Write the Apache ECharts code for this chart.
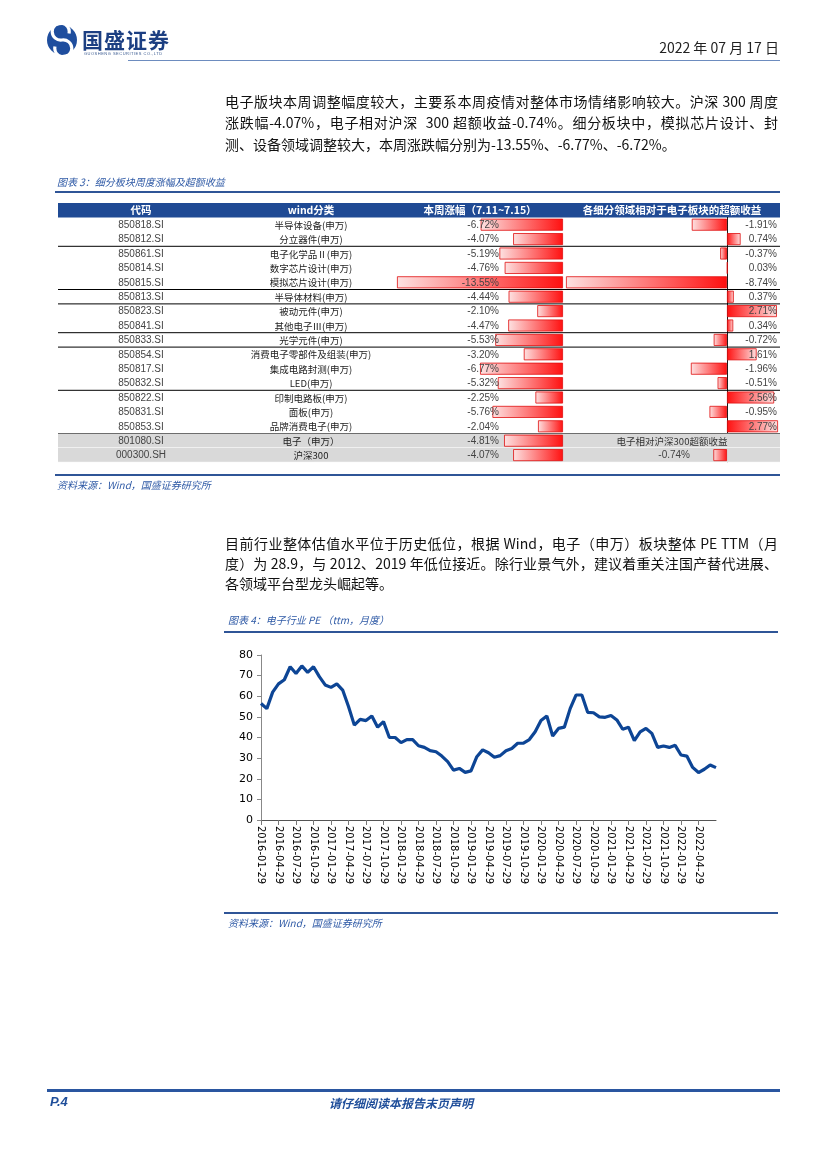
<!DOCTYPE html>
<html><head><meta charset="utf-8">
<script src="https://cdn.jsdelivr.net/npm/echarts@6/dist/echarts.min.js"></script>
<style>
html,body{margin:0;padding:0;background:#fff;}
#page{position:relative;width:827px;height:1169px;overflow:hidden;font-family:"Noto Sans CJK SC","Noto Sans",sans-serif;}
#chart{position:absolute;left:0;top:0;width:827px;height:1169px;z-index:1;}
.t{position:absolute;white-space:nowrap;z-index:2;}
.pl{position:absolute;left:225px;width:553px;font-size:14px;line-height:20px;color:#111;text-align:justify;text-align-last:justify;z-index:2;}
.pl.last{text-align-last:left;}
.rule{position:absolute;z-index:2;}
.cap{position:absolute;font-size:10px;font-style:italic;color:#2f5aa6;z-index:2;white-space:nowrap;}
</style></head>
<body><div id="page">
<div id="chart"></div>

<!-- header -->
<svg class="t" style="left:46px;top:24px" width="32" height="32" viewBox="0 0 32 32">
  <circle cx="16" cy="16" r="15" fill="#1f4e9e"/>
  <path d="M23 9.5 A8.5 8.5 0 1 0 16 16 A8.5 8.5 0 1 1 9 22.5" stroke="#fff" stroke-width="3.2" fill="none"/>
</svg>
<div class="t" style="left:82px;top:24px;font-size:21px;font-weight:bold;color:#1c3f82;letter-spacing:1px;">国盛证券</div>
<div class="t" style="left:84px;top:51px;font-size:4px;color:#3a5a90;letter-spacing:0.5px;font-family:'Liberation Sans';">GUOSHENG SECURITIES CO.,LTD</div>
<div class="t" style="right:48px;top:37px;font-size:14px;color:#222;">2022 年 07 月 17 日</div>
<div class="rule" style="left:128px;top:60px;width:652px;height:1px;background:#6d8cbf;"></div>

<!-- paragraph 1 -->
<div class="pl" style="top:91px;">电子版块本周调整幅度较大，主要系本周疫情对整体市场情绪影响较大。沪深 300 周度</div>
<div class="pl" style="top:112px;">涨跌幅-4.07%，电子相对沪深&nbsp;&nbsp;300 超额收益-0.74%。细分板块中，模拟芯片设计、封</div>
<div class="pl last" style="top:134px;">测、设备领域调整较大，本周涨跌幅分别为-13.55%、-6.77%、-6.72%。</div>

<!-- figure 3 caption -->
<div class="cap" style="left:57px;top:174px;">图表 3：细分板块周度涨幅及超额收益</div>
<div class="rule" style="left:55px;top:191px;width:725px;height:2px;background:#2f5597;"></div>
<div class="rule" style="left:55px;top:474px;width:725px;height:2px;background:#2f5597;"></div>
<div class="cap" style="left:57px;top:477px;">资料来源：Wind，国盛证券研究所</div>

<!-- paragraph 2 -->
<div class="pl" style="top:533px;">目前行业整体估值水平位于历史低位，根据 Wind，电子（申万）板块整体 PE TTM（月</div>
<div class="pl" style="top:553px;">度）为 28.9，与 2012、2019 年低位接近。除行业景气外，建议着重关注国产替代进展、</div>
<div class="pl last" style="top:573px;">各领域平台型龙头崛起等。</div>

<!-- figure 4 caption -->
<div class="cap" style="left:228px;top:612px;">图表 4：电子行业 PE （ttm，月度）</div>
<div class="rule" style="left:224px;top:631px;width:554px;height:2px;background:#2f5597;"></div>
<div class="rule" style="left:224px;top:912px;width:554px;height:2px;background:#2f5597;"></div>
<div class="cap" style="left:228px;top:915px;">资料来源：Wind，国盛证券研究所</div>

<!-- footer -->
<div class="rule" style="left:47px;top:1089px;width:733px;height:3px;background:#2a56a0;"></div>
<div class="t" style="left:50px;top:1094px;font-size:13px;font-weight:bold;font-style:italic;color:#1f4e9a;font-family:'Liberation Sans';">P.4</div>
<div class="t" style="left:329px;top:1094px;font-size:12px;font-weight:bold;font-style:italic;color:#1f4e9a;">请仔细阅读本报告末页声明</div>
</div>

<script>
// ---------- table data ----------
const headers = ['代码', 'wind分类', '本周涨幅（7.11~7.15）', '各细分领域相对于电子板块的超额收益'];
const codes = ['850818.SI','850812.SI','850861.SI','850814.SI','850815.SI','850813.SI','850823.SI','850841.SI','850833.SI','850854.SI','850817.SI','850832.SI','850822.SI','850831.SI','850853.SI','801080.SI','000300.SH'];
const names = ['半导体设备(申万)','分立器件(申万)','电子化学品Ⅱ(申万)','数字芯片设计(申万)','模拟芯片设计(申万)','半导体材料(申万)','被动元件(申万)','其他电子Ⅲ(申万)','光学元件(申万)','消费电子零部件及组装(申万)','集成电路封测(申万)','LED(申万)','印制电路板(申万)','面板(申万)','品牌消费电子(申万)','电子（申万）','沪深300'];
const weekly = [-6.72,-4.07,-5.19,-4.76,-13.55,-4.44,-2.10,-4.47,-5.53,-3.20,-6.77,-5.32,-2.25,-5.76,-2.04,-4.81,-4.07];
const excess = [-1.91,0.74,-0.37,0.03,-8.74,0.37,2.71,0.34,-0.72,1.61,-1.96,-0.51,2.56,-0.95,2.77,null,-0.74];
const excessNote = '电子相对沪深300超额收益';
const groupEnds = [1,4,5,7,8,11,14];
const greyRows = [15,16];

// ---------- PE chart data ----------
const peStart = [2016, 1];
const peValues = [56.5,54,62,66,68,74.3,71,74.7,71.6,74.3,69.5,65.5,64.3,66,63,55,46,48.8,48.2,50.4,45,47.7,40,40,37.5,39,39,36,35.2,33.6,33.1,31,28.3,24.2,25,23.1,23.8,30.7,34,32.6,30.4,31.2,33.6,34.7,37.2,37.3,39,42.8,48.2,50.4,40.7,44.4,45,54,60.6,60.6,52.2,52,50,49.8,50.7,48.5,44,45,38.5,42.7,44.4,42,35.2,35.9,35.2,36.2,31.5,31,25.5,23,24.6,26.7,25.4];
const peDates = peValues.map((v, i) => {
  const m = peStart[1] - 1 + i;
  const y = peStart[0] + Math.floor(m / 12);
  const mm = (m % 12) + 1;
  return y + '-' + (mm < 10 ? '0' + mm : mm) + '-29';
});
const showTick = (i) => i % 3 === 0 && i < peDates.length - 1;

// ---------- styling helpers ----------
const RED = '#ff1010', PALE = '#fde2e2';
function barItem(v) {
  if (v === null) return { value: null };
  const stops = v < 0 ? [{offset:0,color:PALE},{offset:1,color:RED}] : [{offset:0,color:RED},{offset:1,color:PALE}];
  return { value: v, itemStyle: { color: new echarts.graphic.LinearGradient(0,0,1,0,stops), borderColor: '#e01010', borderWidth: 0.8 } };
}
function pct(v) { return v.toFixed(2) + '%'; }

const TL = 58, TR = 780;           // table x extents
const TOP = 217.5, ROWH = 14.4;    // table body
const numFont = '10px "Liberation Sans", Arial, sans-serif';
const cjkFont = '9.5px "Noto Sans CJK SC", sans-serif';

const chart = echarts.init(document.getElementById('chart'));
const rowIdx = codes.map((c, i) => [0, i]);

chart.setOption({
  animation: false,
  grid: [
    { left: 397, top: TOP, width: 166, height: ROWH * codes.length },
    { left: 566, top: TOP, width: 212, height: ROWH * codes.length },
    { left: 261, top: 655, width: 455, height: 165 }
  ],
  xAxis: [
    { gridIndex: 0, type: 'value', min: -13.55, max: 0, show: false },
    { gridIndex: 1, type: 'value', min: -8.74, max: 2.77, show: false },
    { gridIndex: 2, type: 'category', data: peDates, boundaryGap: false,
      axisLine: { lineStyle: { color: '#555', width: 1 } },
      axisTick: { interval: showTick, length: 5, lineStyle: { color: '#777' } },
      axisLabel: { interval: showTick, rotate: -90, margin: 6, color: '#000', fontSize: 10, fontFamily: 'DejaVu Sans' } }
  ],
  yAxis: [
    { gridIndex: 0, type: 'category', data: codes, inverse: true, show: false },
    { gridIndex: 1, type: 'category', data: codes, inverse: true,
      axisLine: { show: true, onZero: true, lineStyle: { color: '#000', type: [1, 1], width: 1 } },
      axisTick: { show: false }, axisLabel: { show: false }, splitLine: { show: false } },
    { gridIndex: 2, type: 'value', min: 0, max: 80, interval: 10,
      axisLine: { show: true, lineStyle: { color: '#888' } },
      axisTick: { show: true, length: 4, lineStyle: { color: '#888' } },
      splitLine: { show: false },
      axisLabel: { color: '#000', fontSize: 11, fontFamily: 'DejaVu Sans', margin: 8 } }
  ],
  graphic: [
    { type: 'rect', shape: { x: TL, y: 203, width: TR - TL, height: 14.5 }, style: { fill: '#1f4a94' }, z: 0 },
    { type: 'text', style: { x: 141, y: 210.5, text: headers[0], fill: '#fff', font: 'bold 10.5px "Noto Sans CJK SC"', textAlign: 'center', textVerticalAlign: 'middle' }, z: 5 },
    { type: 'text', style: { x: 311, y: 210.5, text: headers[1], fill: '#fff', font: 'bold 10.5px "Noto Sans CJK SC"', textAlign: 'center', textVerticalAlign: 'middle' }, z: 5 },
    { type: 'text', style: { x: 480, y: 210.5, text: headers[2], fill: '#fff', font: 'bold 10.5px "Noto Sans CJK SC"', textAlign: 'center', textVerticalAlign: 'middle' }, z: 5 },
    { type: 'text', style: { x: 672, y: 210.5, text: headers[3], fill: '#fff', font: 'bold 10.5px "Noto Sans CJK SC"', textAlign: 'center', textVerticalAlign: 'middle' }, z: 5 }
  ],
  series: [
    { // row backgrounds and rules
      type: 'custom', xAxisIndex: 1, yAxisIndex: 1, data: rowIdx, z: 1, silent: true,
      encode: { x: 0, y: 1 },
      renderItem: function (params, api) {
        const i = api.value(1);
        const cy = api.coord([0, i])[1];
        const h = api.size([0, 1])[1];
        const top = cy - h / 2, bot = cy + h / 2;
        const ch = [];
        if (greyRows.indexOf(i) >= 0) {
          ch.push({ type: 'rect', shape: { x: TL, y: top, width: TR - TL, height: h }, style: { fill: '#d9d9d9' } });
          ch.push({ type: 'line', shape: { x1: TL, y1: bot, x2: TR, y2: bot }, style: { stroke: '#fff', lineWidth: 1 } });
        }
        if (groupEnds.indexOf(i) >= 0) {
          ch.push({ type: 'line', shape: { x1: TL, y1: bot, x2: TR, y2: bot }, style: { stroke: '#000', lineWidth: 1 } });
        }
        return { type: 'group', children: ch };
      }
    },
    { type: 'bar', xAxisIndex: 0, yAxisIndex: 0, data: weekly.map(barItem), barWidth: 12, z: 2, silent: true },
    { type: 'bar', xAxisIndex: 1, yAxisIndex: 1, data: excess.map(barItem), barWidth: 12, z: 2, silent: true },
    { // row texts
      type: 'custom', xAxisIndex: 1, yAxisIndex: 1, data: rowIdx, z: 4, silent: true,
      encode: { x: 0, y: 1 },
      renderItem: function (params, api) {
        const i = api.value(1);
        const cy = api.coord([0, i])[1] + 0.5;
        const ch = [
          { type: 'text', style: { x: 141, y: cy, text: codes[i], font: numFont, fill: '#444', textAlign: 'center', textVerticalAlign: 'middle' } },
          { type: 'text', style: { x: 311, y: cy, text: names[i], font: cjkFont, fill: '#222', textAlign: 'center', textVerticalAlign: 'middle' } },
          { type: 'text', style: { x: 499, y: cy, text: pct(weekly[i]), font: numFont, fill: '#444', textAlign: 'right', textVerticalAlign: 'middle' } }
        ];
        if (excess[i] === null) {
          ch.push({ type: 'text', style: { x: 672, y: cy, text: excessNote, font: cjkFont, fill: '#333', textAlign: 'center', textVerticalAlign: 'middle' } });
        } else if (i === codes.length - 1) {
          ch.push({ type: 'text', style: { x: 690, y: cy, text: pct(excess[i]), font: numFont, fill: '#444', textAlign: 'right', textVerticalAlign: 'middle' } });
        } else {
          ch.push({ type: 'text', style: { x: 777, y: cy, text: pct(excess[i]), font: numFont, fill: '#444', textAlign: 'right', textVerticalAlign: 'middle' } });
        }
        return { type: 'group', children: ch };
      }
    },
    { type: 'line', xAxisIndex: 2, yAxisIndex: 2, data: peValues, showSymbol: false, symbol: 'none',
      lineStyle: { color: '#0d4595', width: 3.2 }, z: 3 }
  ]
});
</script>
</body></html>
